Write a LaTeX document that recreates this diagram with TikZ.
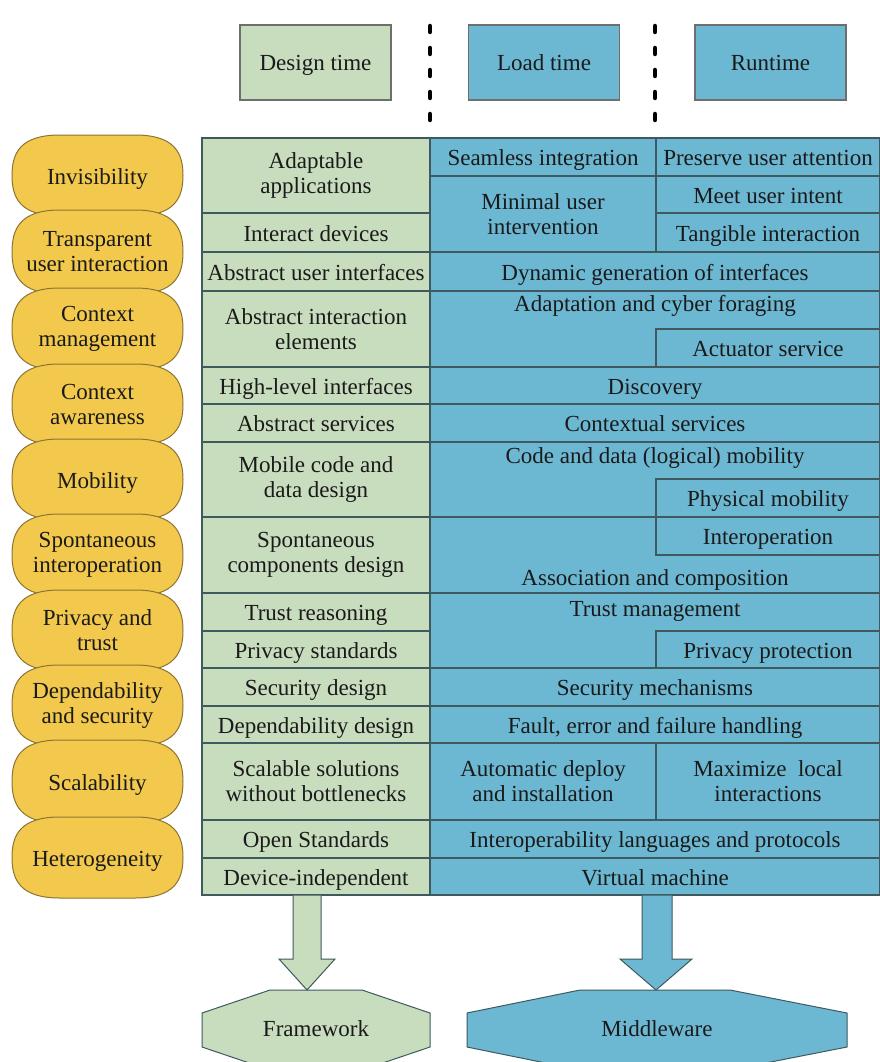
\documentclass[tikz,border=0pt]{standalone}
\usepackage{fontspec}
\setmainfont{Liberation Serif}
\definecolor{cgreen}{HTML}{C8DCBE}
\definecolor{cblue}{HTML}{6CB8D3}
\definecolor{cyellow}{HTML}{F2C94C}
\definecolor{cgrid}{HTML}{3E5A5E}
\definecolor{cedge}{HTML}{8C7434}
\definecolor{hdr}{HTML}{6E6E6E}
\definecolor{txt}{HTML}{1A1A1A}
\newcommand\cellat[7]{\node[#6, minimum width={(#4-#2)*1pt}, minimum height={(#5-#3)*1pt}] (#1) at ({(#2+#4)/2},{(#3+#5)/2}) {#7};}
% pill: name, y1, y2, extra text style, text
\newcommand\pillat[5]{%
  \pgfmathsetmacro\pa{#2-3}\pgfmathsetmacro\pb{#3+3}%
  \pgfmathsetmacro\pc{(#2+#3)/2}\pgfmathsetmacro\ph{(#3-#2)/2+3}%
  \path[pillshape] (60,\pa) -- (135,\pa) .. controls (175,\pa) and (183,{\pc-0.55*\ph}) .. (183,\pc)
     .. controls (183,{\pc+0.55*\ph}) and (175,\pb) .. (135,\pb) -- (60,\pb)
     .. controls (20,\pb) and (12,{\pc+0.55*\ph}) .. (12,\pc)
     .. controls (12,{\pc-0.55*\ph}) and (20,\pa) .. cycle;
  \node[plain,#4] (#1) at (97.5,\pc) {#5};}
\begin{document}
\begin{tikzpicture}[x=1pt,y=-1pt,
  every node/.style={font=\fontsize{23}{25}\selectfont, text=txt},
  sl/.style={text height=17pt, text depth=0pt},
  cellbox/.style={draw=cgrid, line width=1.2pt, inner sep=0pt, align=center},
  gcell/.style={cellbox, fill=cgreen},
  bcell/.style={cellbox, fill=cblue},
  gs/.style={gcell, sl},
  bs/.style={bcell, sl},
  pillshape/.style={draw=cedge, line width=1pt, fill=cyellow},
  head/.style={draw=hdr, line width=1.2pt, minimum width=151pt, minimum height=75pt, inner sep=0pt, sl},
  sepline/.style={line width=4.5pt, dash pattern=on 6pt off 16pt, line cap=round},
  blockarrow/.style={draw=cgrid, line width=1pt},
  octo/.style={draw=cgrid, line width=1pt},
  plain/.style={inner sep=0pt, align=center}
]
\path[use as bounding box] (0,0) rectangle (880,1062);
\clip (0,0) rectangle (880,1062);
\fill[white] (0,0) rectangle (880,1062);

% header
\node[head, fill=cgreen] (design) at (315.5,62.5) {Design time};
\node[head, fill=cblue] (load) at (544,62.5) {Load time};
\node[head, fill=cblue] (run) at (770.5,62.5) {Runtime};
\coordinate (s1a) at (430,26); \coordinate (s1b) at (430,124);
\coordinate (s2a) at (655,26); \coordinate (s2b) at (655,124);
\draw[sepline] (s1a) -- (s1b);
\draw[sepline] (s2a) -- (s2b);

% left (design time) column
\cellat{g1}{202}{138}{430}{213}{gcell}{Adaptable\\applications}
\cellat{g2}{202}{213}{430}{252}{gs}{Interact devices}
\cellat{g3}{202}{252}{430}{291}{gs}{Abstract user interfaces}
\cellat{g4}{202}{291}{430}{367}{gcell}{Abstract interaction\\elements}
\cellat{g5}{202}{367}{430}{404}{gs}{High-level interfaces}
\cellat{g6}{202}{404}{430}{442}{gs}{Abstract services}
\cellat{g7}{202}{442}{430}{517}{gcell}{Mobile code and\\data design}
\cellat{g8}{202}{517}{430}{593}{gcell}{Spontaneous\\components design}
\cellat{g9}{202}{593}{430}{631}{gs}{Trust reasoning}
\cellat{g10}{202}{631}{430}{668}{gs}{Privacy standards}
\cellat{g11}{202}{668}{430}{706}{gs}{Security design}
\cellat{g12}{202}{706}{430}{743}{gs}{Dependability design}
\cellat{g13}{202}{743}{430}{820}{gcell}{Scalable solutions\\without bottlenecks}
\cellat{g14}{202}{820}{430}{858}{gs}{Open Standards}
\cellat{g15}{202}{858}{430}{895}{gs}{Device-independent}

% right (load / run time) columns
\cellat{b1}{430}{138}{656}{176}{bs}{Seamless integration}
\cellat{b2}{656}{138}{880}{176}{bs}{Preserve user attention}
\cellat{b3}{430}{176}{656}{252}{bcell}{Minimal user\\intervention}
\cellat{b4}{656}{176}{880}{213}{bs}{Meet user intent}
\cellat{b5}{656}{213}{880}{252}{bs}{Tangible interaction}
\cellat{b6}{430}{252}{880}{291}{bs}{Dynamic generation of interfaces}
\cellat{b7}{430}{291}{880}{367}{bcell}{}
\node[plain, sl] (b7t) at (655,303) {Adaptation and cyber foraging};
\cellat{b8}{656}{329}{880}{367}{bs}{Actuator service}
\cellat{b9}{430}{367}{880}{404}{bs}{Discovery}
\cellat{b10}{430}{404}{880}{442}{bs}{Contextual services}
\cellat{b11}{430}{442}{880}{517}{bcell}{}
\node[plain, sl] (b11t) at (655,454.5) {Code and data (logical) mobility};
\cellat{b12}{656}{479}{880}{517}{bs}{Physical mobility}
\cellat{b13}{430}{517}{880}{593}{bcell}{}
\node[plain, sl] (b13t) at (655,577) {Association and composition};
\cellat{b14}{656}{517}{880}{555}{bs}{Interoperation}
\cellat{b15}{430}{593}{880}{668}{bcell}{}
\node[plain, sl] (b15t) at (655,608) {Trust management};
\cellat{b16}{656}{631}{880}{668}{bs}{Privacy protection}
\cellat{b17}{430}{668}{880}{706}{bs}{Security mechanisms}
\cellat{b18}{430}{706}{880}{743}{bs}{Fault, error and failure handling}
\cellat{b19}{430}{743}{656}{820}{bcell}{Automatic deploy\\and installation}
\cellat{b20}{656}{743}{880}{820}{bcell}{Maximize\ \ local\\interactions}
\cellat{b21}{430}{820}{880}{858}{bs}{Interoperability languages and protocols}
\cellat{b22}{430}{858}{880}{895}{bs}{Virtual machine}

% requirement pills
\pillat{p1}{138}{213}{sl}{Invisibility}
\pillat{p2}{213}{291}{}{Transparent\\user interaction}
\pillat{p3}{291}{367}{}{Context\\management}
\pillat{p4}{367}{442}{}{Context\\awareness}
\pillat{p5}{442}{517}{sl}{Mobility}
\pillat{p6}{517}{593}{}{Spontaneous\\interoperation}
\pillat{p7}{593}{668}{}{Privacy and\\trust}
\pillat{p8}{668}{743}{}{Dependability\\and security}
\pillat{p9}{743}{820}{sl}{Scalability}
\pillat{p10}{820}{895}{sl}{Heterogeneity}

% outputs
\path[octo, fill=cgreen]
  (270,990) -- (362,990) -- (430,1013) -- (430,1047) -- (362,1070) -- (270,1070) -- (202,1047) -- (202,1013) -- cycle;
\node[plain, sl] (fw) at (316,1028) {Framework};
\path[octo, fill=cblue]
  (580,990) -- (730,990) -- (847,1013) -- (847,1047) -- (730,1070) -- (580,1070) -- (467,1047) -- (467,1013) -- cycle;
\node[plain, sl] (mw) at (657,1028) {Middleware};

\coordinate (gtip) at (307,990);
\coordinate (btip) at (656,990);
\fill[cgreen] ([xshift=-14pt]gtip |- g15.south) -- ([xshift=-14pt]gtip |- 0,959) -- ([xshift=-28pt]gtip |- 0,959) -- (gtip) -- ([xshift=28pt]gtip |- 0,959) -- ([xshift=14pt]gtip |- 0,959) -- ([xshift=14pt]gtip |- g15.south) -- cycle;
\draw[blockarrow] ([xshift=-14pt]gtip |- g15.south) -- ([xshift=-14pt]gtip |- 0,959) -- ([xshift=-28pt]gtip |- 0,959) -- (gtip) -- ([xshift=28pt]gtip |- 0,959) -- ([xshift=14pt]gtip |- 0,959) -- ([xshift=14pt]gtip |- g15.south);
\fill[cblue] ([xshift=-14pt]btip |- b22.south) -- ([xshift=-14pt]btip |- 0,959) -- ([xshift=-36pt]btip |- 0,959) -- (btip) -- ([xshift=36pt]btip |- 0,959) -- ([xshift=16pt]btip |- 0,959) -- ([xshift=16pt]btip |- b22.south) -- cycle;
\draw[blockarrow] ([xshift=-14pt]btip |- b22.south) -- ([xshift=-14pt]btip |- 0,959) -- ([xshift=-36pt]btip |- 0,959) -- (btip) -- ([xshift=36pt]btip |- 0,959) -- ([xshift=16pt]btip |- 0,959) -- ([xshift=16pt]btip |- b22.south);
\end{tikzpicture}
\end{document}
